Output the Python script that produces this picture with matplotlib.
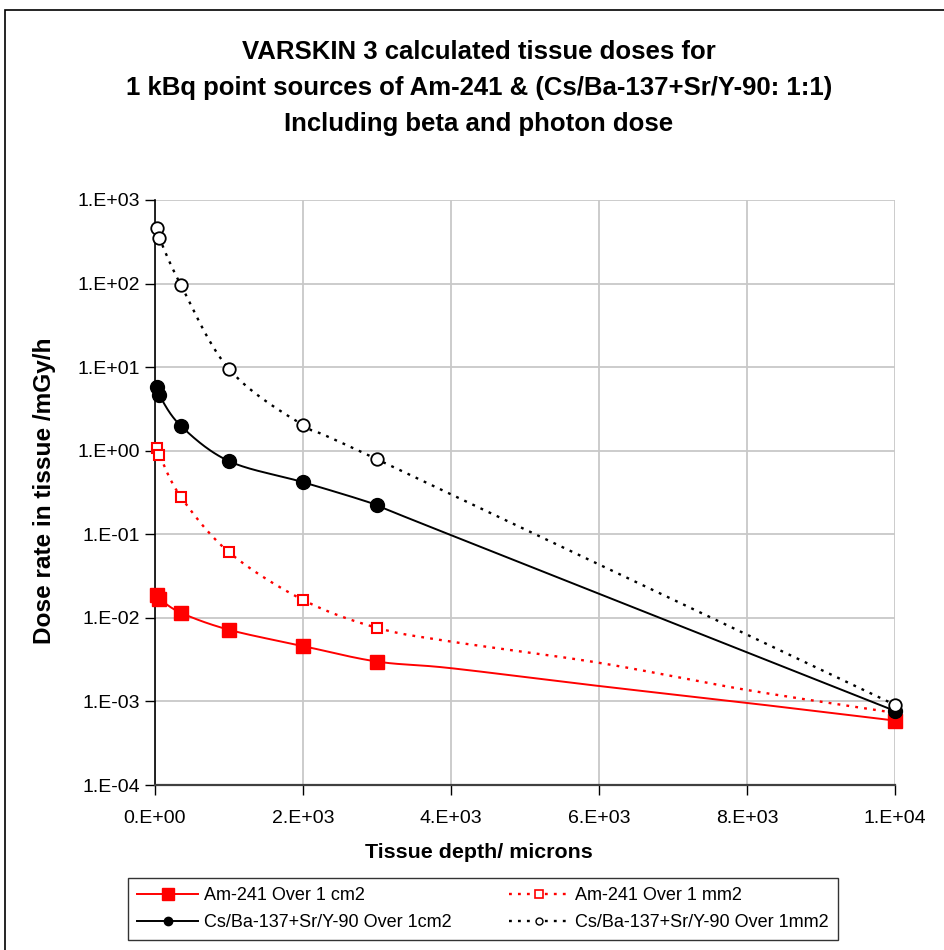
import numpy as np
import matplotlib
matplotlib.use("Agg")
import matplotlib.pyplot as plt
from matplotlib.lines import Line2D
from matplotlib.patches import Rectangle
from matplotlib.ticker import FixedLocator, FuncFormatter, NullLocator

plt.rcParams['font.family'] = ['Liberation Sans', 'DejaVu Sans']

# tissue depth (microns) of the marked points
depth = [30, 60, 350, 1000, 2000, 3000, 10000]

# dose rate (mGy/h) at the marked points
am_cm2 = [0.019, 0.017, 0.0115, 0.0072, 0.0046, 0.0030, 0.00059]
am_mm2 = [1.08, 0.89, 0.28, 0.061, 0.0164, 0.0076, 0.00073]
cs_cm2 = [5.8, 4.6, 1.98, 0.75, 0.42, 0.224, 0.00077]
cs_mm2 = [462, 351, 96, 9.5, 2.03, 0.79, 0.00091]

# extra points on the curves, drawn without a marker
am_cm2_extra_x = [4000, 6000, 8000]
am_cm2_extra = [0.0025, 0.00153, 0.00096]
am_mm2_extra_x = [4000, 6000, 8000]
am_mm2_extra = [0.0052, 0.0029, 0.00137]
cs_cm2_extra_x = [3600]
cs_cm2_extra = [0.135]

labels = ["Am-241 Over 1 cm2", "Am-241 Over 1 mm2",
          "Cs/Ba-137+Sr/Y-90 Over 1cm2", "Cs/Ba-137+Sr/Y-90 Over 1mm2"]


def merge(x, y, ex, ey):
    pts = sorted(zip(list(x) + list(ex), list(y) + list(ey)))
    return [p[0] for p in pts], [p[1] for p in pts]


# smooth line like Excel: Catmull-Rom through the points, in log-y space
def smooth(xs, ys, n=40):
    pts = np.column_stack([np.asarray(xs, float), np.log10(ys)])
    P = np.vstack([pts[0], pts, pts[-1]])
    t = np.linspace(0, 1, n)[:, None]
    out = []
    for i in range(1, len(P) - 2):
        p0, p1, p2, p3 = P[i - 1], P[i], P[i + 1], P[i + 2]
        seg = 0.5 * (2 * p1 + (p2 - p0) * t
                     + (2 * p0 - 5 * p1 + 4 * p2 - p3) * t ** 2
                     + (-p0 + 3 * p1 - 3 * p2 + p3) * t ** 3)
        out.append(seg)
    c = np.vstack(out)
    return c[:, 0], 10 ** c[:, 1]


def sci(v, pos):
    if v == 0:
        return "0.E+00"
    e = int(np.floor(np.log10(v) + 1e-9))
    m = int(round(v / 10 ** e))
    return f"{m}.E{e:+03d}"


fig = plt.figure(figsize=(9.44, 9.50), dpi=100)
ax = fig.add_axes([155 / 944, 1 - 785 / 950, 740 / 944, 585 / 950])

dot = (0, (1.2, 2.6))
series = [
    (am_cm2, am_cm2_extra_x, am_cm2_extra, 'red', '-', dict(marker='s', ms=10, mfc='red', mec='red')),
    (am_mm2, am_mm2_extra_x, am_mm2_extra, 'red', dot, dict(marker='s', ms=7, mfc='white', mec='red', mew=1.5)),
    (cs_cm2, cs_cm2_extra_x, cs_cm2_extra, 'black', '-', dict(marker='o', ms=10, mfc='black', mec='black')),
    (cs_mm2, [], [], 'black', dot, dict(marker='o', ms=9, mfc='white', mec='black', mew=1.3)),
]

for vals, ex, ey, col, ls, mk in series:
    lx, ly = merge(depth, vals, ex, ey)
    sx, sy = smooth(lx, ly)
    ax.plot(sx, sy, color=col, ls=ls, lw=1.4 if ls == '-' else 1.7, zorder=3)
    ax.plot(depth, vals, ls='none', zorder=4, clip_on=False, **mk)

ax.set_yscale('log')
ax.set_xlim(0, 10000)
ax.set_ylim(1e-4, 1e3)
ax.xaxis.set_major_locator(FixedLocator([0, 2000, 4000, 6000, 8000, 10000]))
ax.yaxis.set_major_locator(FixedLocator([10.0 ** k for k in range(-4, 4)]))
ax.yaxis.set_minor_locator(NullLocator())
ax.xaxis.set_major_formatter(FuncFormatter(sci))
ax.yaxis.set_major_formatter(FuncFormatter(sci))
ax.tick_params(axis='both', direction='out', length=7, width=1, labelsize=14, pad=4)
ax.tick_params(axis='x', pad=11)

ax.grid(True, color='#c8c8c8', lw=1.3)
ax.set_axisbelow(True)
for s in ['top', 'right']:
    ax.spines[s].set_visible(False)
ax.spines['left'].set_linewidth(1.2)
ax.spines['bottom'].set_color('#404040')
ax.spines['bottom'].set_linewidth(1.6)

# titles and axis labels
title = ["VARSKIN 3 calculated tissue doses for",
         "1 kBq point sources of Am-241 & (Cs/Ba-137+Sr/Y-90: 1:1)",
         "Including beta and photon dose"]
for i, line in enumerate(title):
    fig.text(479 / 944, 1 - (52 + 36 * i) / 950, line, ha='center', va='center',
             fontsize=18.5, fontweight='bold')
fig.text(479 / 944, 1 - 853 / 950, "Tissue depth/ microns", ha='center', va='center',
         fontsize=15.4, fontweight='bold')
fig.text(45 / 944, 1 - 491 / 950, "Dose rate in tissue /mGy/h", ha='center', va='center',
         rotation=90, fontsize=17.6, fontweight='bold')

# legend, row by row like the original
handles = [
    Line2D([], [], color='red', lw=1.4, marker='s', ms=9, mfc='red', mec='red'),
    Line2D([], [], color='red', lw=1.7, ls=dot, marker='s', ms=6, mfc='white', mec='red', mew=1.2),
    Line2D([], [], color='black', lw=1.4, marker='o', ms=6, mfc='black', mec='black'),
    Line2D([], [], color='black', lw=1.7, ls=dot, marker='o', ms=5, mfc='white', mec='black', mew=1),
]
order = [0, 2, 1, 3]
leg = fig.legend([handles[i] for i in order], [labels[i] for i in order], ncol=2,
                 loc='lower left', mode='expand',
                 bbox_to_anchor=(128 / 944, 10 / 950, 710 / 944, 64 / 950),
                 fontsize=13, frameon=True, fancybox=False, borderaxespad=0,
                 handlelength=3.4, handletextpad=0.3, columnspacing=1.0,
                 labelspacing=0.55, borderpad=0.5)
leg.get_frame().set_edgecolor('black')
leg.get_frame().set_linewidth(1)

# outer chart border
fig.patches.append(Rectangle((5 / 944, -0.1), 1.2, 1.1 - 10 / 950, transform=fig.transFigure,
                             fill=False, edgecolor='black', lw=1.2))

fig.savefig("out.png", dpi=100)
